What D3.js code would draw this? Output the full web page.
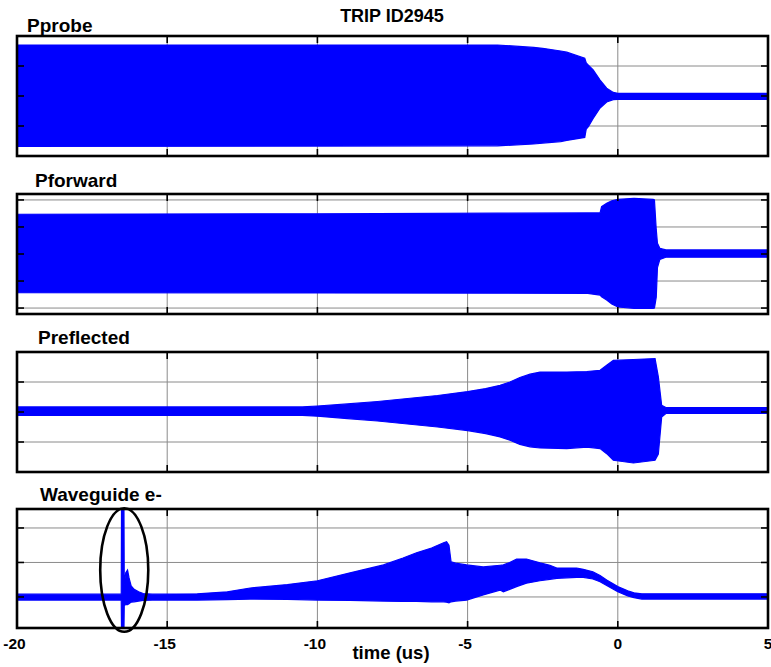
<!DOCTYPE html>
<html><head><meta charset="utf-8">
<script src="https://cdn.jsdelivr.net/npm/d3@7"></script>
<style>
body{margin:0;background:#fff}
svg{display:block}
text{font-family:"Liberation Sans",Arial,Helvetica,sans-serif;font-weight:bold;fill:#000}
</style>
</head><body><svg id="c" width="771" height="667"></svg>
<script>
// ---------- data ----------
const chartTitle = "TRIP ID2945";
const xLabel = "time (us)";
const panelNames = ["Pprobe", "Pforward", "Preflected", "Waveguide e-"];
const timeTicks = [-20, -15, -10, -5, 0, 5];
const timeTickLabels = ["-20", "-15", "-10", "-5", "0", "5"];

// envelopes of the sampled RF signals: [time (us), upper, lower]
const probeEnvelope = [
  [-20, 1.70, -1.68], [-10, 1.70, -1.67], [-4.0, 1.70, -1.66], [-2.8, 1.62, -1.60],
  [-2.5, 1.59, -1.57], [-1.9, 1.50, -1.52], [-1.7, 1.46, -1.48], [-1.1, 1.26, -1.38],
  [-1.05, 1.10, -1.10], [-0.98, 1.03, -1.02], [-0.82, 0.87, -0.75], [-0.59, 0.53, -0.40],
  [-0.37, 0.26, -0.20], [-0.15, 0.12, -0.12], [0, 0.09, -0.11], [5, 0.09, -0.11]
];
const forwardEnvelope = [
  [-20, 1.47, -1.43], [-10, 1.49, -1.44], [-4, 1.51, -1.45], [-1, 1.52, -1.46],
  [-0.59, 1.52, -1.52], [-0.54, 1.75, -1.58], [-0.37, 1.88, -1.70], [-0.2, 1.97, -1.85],
  [0, 2.02, -1.96], [0.54, 2.06, -2.01], [1.18, 2.02, -2.01], [1.22, 2.0, -2.0],
  [1.28, 0.9, -1.6], [1.32, 0.4, -0.5], [1.4, 0.21, -0.2], [1.6, 0.15, -0.12], [5, 0.15, -0.12]
];
const reflectedEnvelope = [
  [-20, 0.17, -0.11], [-10.5, 0.17, -0.11], [-10, 0.20, -0.14], [-9, 0.27, -0.22],
  [-8, 0.35, -0.30], [-7, 0.45, -0.40], [-6, 0.55, -0.50], [-5, 0.68, -0.62],
  [-4.4, 0.78, -0.72], [-3.92, 0.89, -0.83], [-3.59, 1.0, -0.94], [-3.26, 1.15, -1.08],
  [-2.92, 1.26, -1.16], [-2.59, 1.33, -1.20], [-1.7, 1.33, -1.22], [-1.03, 1.35, -1.17],
  [-0.59, 1.39, -1.22], [-0.37, 1.56, -1.39], [-0.15, 1.72, -1.61], [0.52, 1.75, -1.70],
  [1.24, 1.78, -1.61], [1.35, 1.17, -1.40], [1.46, 0.22, -0.17], [1.6, 0.15, -0.05], [5, 0.15, -0.05]
];
const waveguideEnvelope = [
  [-20, 0.08, -0.09], [-16.53, 0.08, -0.09], [-16.52, 2.7, -1.0], [-16.44, 2.7, -1.0],
  [-16.43, 0.35, -0.25], [-16.38, 0.70, -0.22], [-16.32, 0.78, -0.22], [-16.27, 0.55, -0.20],
  [-16.2, 0.32, -0.15], [-16.1, 0.22, -0.14], [-15.95, 0.15, -0.12], [-15.8, 0.10, -0.10],
  [-15.5, 0.08, -0.09], [-14, 0.09, -0.09], [-13, 0.15, -0.08], [-12.24, 0.26, -0.06],
  [-11, 0.36, -0.07], [-10, 0.47, -0.09], [-8.91, 0.70, -0.10], [-7.8, 0.93, -0.12],
  [-7.15, 1.13, -0.13], [-6.7, 1.28, -0.13], [-6.2, 1.42, -0.14], [-5.8, 1.57, -0.14],
  [-5.7, 1.60, -0.15], [-5.62, 1.50, -0.17], [-5.55, 1.02, -0.14], [-5.4, 0.98, -0.12],
  [-5.03, 0.93, -0.09], [-4.48, 0.87, 0.06], [-3.92, 0.92, 0.20], [-3.81, 0.93, 0.15],
  [-3.6, 1.0, 0.22], [-3.37, 1.10, 0.30], [-3.04, 1.10, 0.40], [-2.59, 0.99, 0.47],
  [-2.26, 0.92, 0.51], [-2.03, 0.84, 0.54], [-1.37, 0.84, 0.57], [-1.15, 0.80, 0.57],
  [-0.83, 0.73, 0.52], [-0.59, 0.62, 0.44], [-0.37, 0.49, 0.33], [0, 0.30, 0.15],
  [0.33, 0.18, 0.03], [0.54, 0.12, -0.02], [0.8, 0.09, -0.06], [5, 0.09, -0.06]
];
const panelData = [probeEnvelope, forwardEnvelope, reflectedEnvelope, waveguideEnvelope];
const panelYMin = [-2, -2.22, -2, -0.9];
const panelYMax = [2, 2.22, 2, 2.55];
const panelYTicks = [[-2, -1, 0, 1, 2], [-2, -1, 0, 1, 2], [-2, -1, 0, 1, 2], [0, 1, 2]];
// highlighted event (ellipse) in the waveguide panel: [time, value, half-width us, half-height]
const eventMark = [-16.43, 0.78, 0.8, 1.79];

// ---------- layout ----------
const plotLeft = 17, plotRight = 768;
const panelTop = [36, 194, 352, 509];
const panelBottom = [156, 314, 472, 628];
const labelX = [27, 35, 38, 40];
const labelY = [31.5, 186.5, 344, 501];
const blue = "#0000ff";

const svg = d3.select("#c");
const x = d3.scaleLinear().domain([-20, 5]).range([plotLeft, plotRight]);

svg.append("text").attr("x", 392).attr("y", 21.5).attr("text-anchor", "middle")
  .style("font-size", "18px").text(chartTitle);

panelData.forEach((data, i) => {
  const y = d3.scaleLinear().domain([panelYMin[i], panelYMax[i]]).range([panelBottom[i], panelTop[i]]);
  const g = svg.append("g");
  const clipId = "clip" + i;
  svg.append("clipPath").attr("id", clipId).append("rect")
    .attr("x", plotLeft).attr("y", panelTop[i])
    .attr("width", plotRight - plotLeft).attr("height", panelBottom[i] - panelTop[i]);

  // grid
  g.selectAll(".vg").data(timeTicks).enter().append("line")
    .attr("x1", d => x(d)).attr("x2", d => x(d))
    .attr("y1", panelTop[i]).attr("y2", panelBottom[i])
    .attr("stroke", "#8a8a8a").attr("stroke-width", 1);
  g.selectAll(".hg").data(panelYTicks[i]).enter().append("line")
    .attr("x1", plotLeft).attr("x2", plotRight)
    .attr("y1", d => y(d)).attr("y2", d => y(d))
    .attr("stroke", "#8a8a8a").attr("stroke-width", 1);

  // signal envelope
  const area = d3.area().x(d => x(d[0])).y0(d => y(d[2])).y1(d => y(d[1]));
  g.append("path").datum(data).attr("d", area)
    .attr("fill", blue).attr("stroke", blue).attr("stroke-width", 1.2)
    .attr("clip-path", `url(#${clipId})`);

  // ticks (inward)
  const tl = 7;
  timeTicks.forEach(t => {
    g.append("line").attr("x1", x(t)).attr("x2", x(t)).attr("y1", panelTop[i]).attr("y2", panelTop[i] + tl)
      .attr("stroke", "#000").attr("stroke-width", 1.6);
    g.append("line").attr("x1", x(t)).attr("x2", x(t)).attr("y1", panelBottom[i]).attr("y2", panelBottom[i] - tl)
      .attr("stroke", "#000").attr("stroke-width", 1.6);
  });
  panelYTicks[i].forEach(v => {
    g.append("line").attr("x1", plotLeft).attr("x2", plotLeft + tl).attr("y1", y(v)).attr("y2", y(v))
      .attr("stroke", "#000").attr("stroke-width", 1.6);
    g.append("line").attr("x1", plotRight).attr("x2", plotRight - tl).attr("y1", y(v)).attr("y2", y(v))
      .attr("stroke", "#000").attr("stroke-width", 1.6);
  });

  // frame
  g.append("rect").attr("x", plotLeft).attr("y", panelTop[i])
    .attr("width", plotRight - plotLeft).attr("height", panelBottom[i] - panelTop[i])
    .attr("fill", "none").attr("stroke", "#000").attr("stroke-width", 2.6);

  // panel label
  svg.append("text").attr("x", labelX[i]).attr("y", labelY[i])
    .style("font-size", "19px").text(panelNames[i]);

  if (i === 3) {
    g.append("ellipse")
      .attr("cx", x(eventMark[0])).attr("cy", y(eventMark[1]))
      .attr("rx", x(eventMark[0] + eventMark[2]) - x(eventMark[0]))
      .attr("ry", y(eventMark[1]) - y(eventMark[1] + eventMark[3]))
      .attr("fill", "none").attr("stroke", "#000").attr("stroke-width", 2.6);
  }
});

// x tick labels below last panel
svg.selectAll(".xtl").data(timeTicks).enter().append("text")
  .attr("x", (d) => x(d) + (d < 0 ? -2.5 : 0))
  .attr("y", 649).attr("text-anchor", "middle")
  .style("font-size", "15.5px")
  .text((d, i) => timeTickLabels[i]);

svg.append("text").attr("x", 391).attr("y", 658.5).attr("text-anchor", "middle")
  .style("font-size", "18.5px").text(xLabel);
</script>
</body></html>
